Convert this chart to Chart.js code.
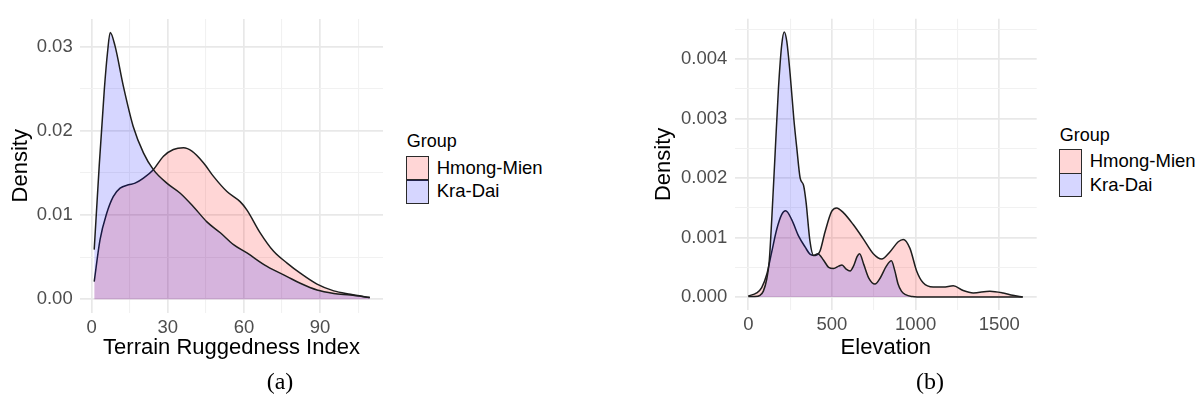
<!DOCTYPE html>
<html>
<head>
<meta charset="utf-8">
<script src="https://cdn.jsdelivr.net/npm/chart.js@4/dist/chart.umd.min.js"></script>
<style>
  html, body { margin: 0; padding: 0; background: #fff; width: 1200px; height: 411px; overflow: hidden;
    font-family: "Liberation Sans", Arial, sans-serif; }
  canvas { position: absolute; top: 0; }
  .legend-title { position: absolute; font-size: 18px; line-height: 18px; color: #000; white-space: nowrap; }
  .legend-key { position: absolute; box-sizing: border-box; width: 22.5px; height: 24.5px; border: 1.4px solid #2a2a2a; }
  .legend-label { position: absolute; font-size: 18.5px; line-height: 23px; color: #000; white-space: nowrap; }
  .caption { position: absolute; font-family: "Liberation Serif", "DejaVu Serif", serif; font-size: 24px; color: #000;
    transform: translate(-50%, -50%); white-space: nowrap; }
</style>
</head>
<body>
<canvas id="triChart" width="390" height="370" style="left:0px"></canvas>
<canvas id="elevChart" width="400" height="370" style="left:640px"></canvas>
<div id="overlay"></div>
<script>
// Groups and their fills (translucent, Kra-Dai drawn over Hmong-Mien)
const groups = ['Hmong-Mien', 'Kra-Dai'];
const groupFills = ['rgba(255,0,0,0.16)', 'rgba(0,0,255,0.16)'];
const legendTitle = 'Group';

// (a) Terrain Ruggedness Index densities
const triHmongX = [1.0, 3.3, 5.9, 8.5, 11.2, 14.5, 17.1, 20.4, 24.3, 28.3, 32.2, 36.2, 39.5, 44.1, 48.0, 53.3, 58.5, 61.2, 66.4, 71.7, 77.0, 82.2, 88.8, 95.4, 102.0, 109.6];
const triHmongY = [0.0021, 0.0071, 0.0102, 0.0122, 0.0132, 0.0136, 0.0138, 0.0144, 0.0154, 0.0170, 0.0178, 0.0180, 0.0176, 0.0162, 0.0146, 0.0128, 0.0116, 0.0106, 0.0079, 0.0057, 0.0043, 0.0031, 0.0018, 0.0010, 0.0006, 0.0002];
const triKraX = [1.0, 3.0, 5.0, 6.3, 7.3, 9.2, 12.5, 16.4, 20.4, 24.3, 29.6, 34.9, 40.1, 45.4, 50.7, 55.9, 61.2, 69.1, 77.0, 82.2, 88.8, 95.4, 102.0, 109.6];
const triKraY = [0.0059, 0.0160, 0.0250, 0.0295, 0.0317, 0.0301, 0.0253, 0.0205, 0.0174, 0.0154, 0.0138, 0.0126, 0.0110, 0.0092, 0.0079, 0.0065, 0.0055, 0.0039, 0.0027, 0.0019, 0.0011, 0.0007, 0.0005, 0.0002];
const triMajorX = [0, 30, 60, 90];
const triMinorX = [15, 45, 75, 105];
const triMajorY = [0, 0.01, 0.02, 0.03];
const triMinorY = [0.005, 0.015, 0.025];
const triLabelsX = ['0', '30', '60', '90'];
const triLabelsY = ['0.00', '0.01', '0.02', '0.03'];

// (b) Elevation densities
const elevHmongX = [0, 50, 80, 110, 140, 170, 200, 223, 260, 300, 340, 370, 400, 428, 458, 498, 528, 568, 627, 687, 747, 797, 846, 896, 926, 966, 1006, 1045, 1105, 1165, 1225, 1284, 1344, 1444, 1523, 1580, 1640];
const elevHmongY = [0.00002, 0.00007, 0.00016, 0.00038, 0.00076, 0.00114, 0.00139, 0.00145, 0.0013, 0.00103, 0.00084, 0.00072, 0.0007, 0.00077, 0.00109, 0.00144, 0.0015, 0.00142, 0.00122, 0.00098, 0.00073, 0.00064, 0.00076, 0.00093, 0.00097, 0.00082, 0.00044, 0.00024, 0.00017, 0.00017, 0.00019, 0.00011, 0.00007, 0.0001, 0.00007, 0.00003, 0.0];
const elevKraX = [0, 40, 70, 90, 110, 125, 140, 160, 180, 200, 215, 230, 250, 272, 290, 310, 330, 345, 368, 390, 415, 450, 480, 510, 540, 560, 585, 608, 630, 650, 665, 690, 720, 757, 790, 825, 855, 875, 895, 915, 940, 980, 1050, 1200, 1400, 1640];
const elevKraY = [0.00001, 0.00001, 0.00003, 0.0001, 0.0003, 0.0006, 0.0013, 0.0024, 0.0035, 0.00425, 0.00446, 0.0043, 0.00375, 0.0030, 0.0025, 0.002, 0.00188, 0.0016, 0.00095, 0.0007, 0.00073, 0.00062, 0.0005, 0.00048, 0.00052, 0.00054, 0.00047, 0.00044, 0.00053, 0.00068, 0.00073, 0.00055, 0.00032, 0.00022, 0.00033, 0.00052, 0.00061, 0.00045, 0.00022, 0.0001, 0.00004, 0.00001, 0, 0, 0, 0];
const elevMajorX = [0, 500, 1000, 1500];
const elevMinorX = [250, 750, 1250];
const elevMajorY = [0, 0.001, 0.002, 0.003, 0.004];
const elevMinorY = [0.0005, 0.0015, 0.0025, 0.0035, 0.0045];
const elevLabelsX = ['0', '500', '1000', '1500'];
const elevLabelsY = ['0.000', '0.001', '0.002', '0.003', '0.004'];

const toPoints = (xs, ys) => xs.map((x, i) => ({ x: x, y: ys[i] }));

const tickFont = { family: '"Liberation Sans", Arial, sans-serif', size: 18.5 };
const titleFont = { family: '"Liberation Sans", Arial, sans-serif', size: 22 };

function axis(opts) {
  const all = opts.major.concat(opts.minor).sort((a, b) => a - b);
  const isMajor = v => opts.major.includes(v);
  const ax = {
    type: 'linear',
    min: opts.min,
    max: opts.max,
    afterBuildTicks: s => { s.ticks = all.map(v => ({ value: v })); },
    ticks: {
      autoSkip: false, maxRotation: 0, color: '#4d4d4d', font: tickFont, padding: opts.tickPad,
      callback: v => { const i = opts.major.indexOf(v); return i >= 0 ? opts.labels[i] : ''; }
    },
    grid: {
      drawTicks: false,
      color: c => (c.tick && isMajor(c.tick.value)) ? '#e8e8e8' : '#f1f1f1',
      lineWidth: c => (c.tick && isMajor(c.tick.value)) ? 1.7 : 1.1
    },
    border: { display: false },
    title: { display: true, text: opts.title, color: '#000', font: titleFont, padding: opts.titlePad }
  };
  if (opts.width !== undefined) ax.afterFit = s => { s.width = opts.width; };
  if (opts.height !== undefined) ax.afterFit = s => { s.height = opts.height; };
  return ax;
}

function densityChart(id, cfg) {
  const ds = (g, xs, ys, order) => ({
    label: groups[g], data: toPoints(xs, ys), order: order,
    backgroundColor: groupFills[g], borderColor: '#1e1e1e', borderWidth: 1.5,
    fill: 'origin', pointRadius: 0, cubicInterpolationMode: 'monotone'
  });
  return new Chart(document.getElementById(id), {
    type: 'line',
    data: { datasets: [ds(1, cfg.kraX, cfg.kraY, 0), ds(0, cfg.hmX, cfg.hmY, 1)] },
    options: {
      responsive: false, animation: false, devicePixelRatio: 1,
      layout: { padding: cfg.padding },
      plugins: { legend: { display: false }, tooltip: { enabled: false } },
      scales: { x: cfg.x, y: cfg.y }
    }
  });
}

densityChart('triChart', {
  hmX: triHmongX, hmY: triHmongY, kraX: triKraX, kraY: triKraY,
  padding: { top: 19, right: 7, bottom: 0, left: 0 },
  x: axis({ min: -4.6, max: 114.8, major: triMajorX, minor: triMinorX, labels: triLabelsX,
            tickPad: 4, title: 'Terrain Ruggedness Index', titlePad: { top: 0, bottom: 9.3 }, height: 57.5 }),
  y: axis({ min: -0.00157, max: 0.0333, major: triMajorY, minor: triMinorY, labels: triLabelsY,
            tickPad: 7.3, title: 'Density', titlePad: { top: 7.3, bottom: 0 }, width: 80 })
});

densityChart('elevChart', {
  hmX: elevHmongX, hmY: elevHmongY, kraX: elevKraX, kraY: elevKraY,
  padding: { top: 10, right: 3.3, bottom: 0, left: 0 },
  x: axis({ min: -79.5, max: 1723.5, major: elevMajorX, minor: elevMinorX, labels: elevLabelsX,
            tickPad: 3.4, title: 'Elevation', titlePad: { top: 0, bottom: 9.3 }, height: 60 }),
  y: axis({ min: -0.000217, max: 0.00468, major: elevMajorY, minor: elevMinorY, labels: elevLabelsY,
            tickPad: 7.7, title: 'Density', titlePad: { top: 10.8, bottom: 0 }, width: 95 })
});

// Legends and panel captions
const overlay = document.getElementById('overlay');
function add(cls, text, left, top) {
  const d = document.createElement('div');
  d.className = cls;
  if (text) d.textContent = text;
  d.style.left = left + 'px';
  d.style.top = top + 'px';
  overlay.appendChild(d);
  return d;
}
function legend(x, titleTop, keyTop) {
  add('legend-title', legendTitle, x + 0.7, titleTop);
  groups.forEach((g, i) => {
    const k = add('legend-key', '', x, keyTop + i * 23.3);
    k.style.background = groupFills[i];
    add('legend-label', g, x + 30.7, keyTop + i * 23.3);
  });
}
legend(406, 131.5, 156);
legend(1059, 125.5, 149.3);
add('caption', '(a)', 280, 381);
add('caption', '(b)', 930, 381);
</script>
</body>
</html>
